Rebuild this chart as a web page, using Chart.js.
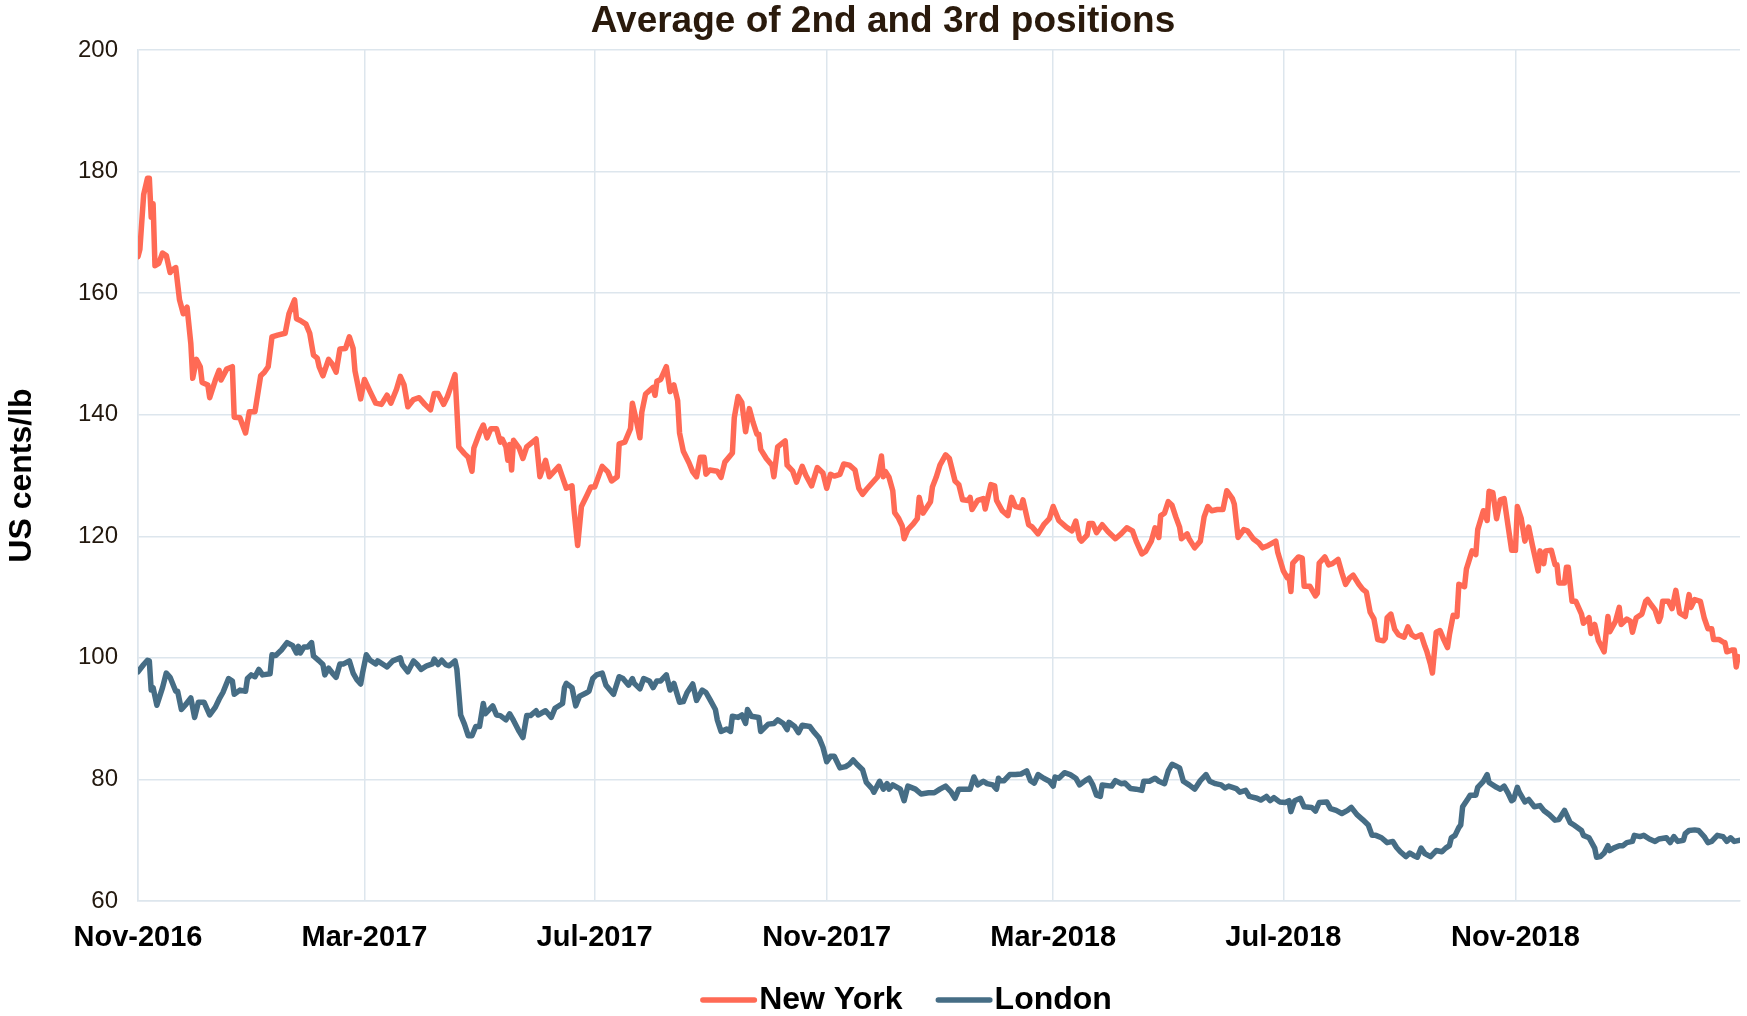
<!DOCTYPE html>
<html>
<head>
<meta charset="utf-8">
<title>Average of 2nd and 3rd positions</title>
<script src="https://cdn.jsdelivr.net/npm/chart.js@4.4.1/dist/chart.umd.min.js"></script>
<style>
  html, body { margin: 0; padding: 0; background: #fff; overflow: hidden; }
  canvas { display: block; }
</style>
</head>
<body>
<canvas id="myChart" width="1747" height="1016"></canvas>
<script>
// x values are days counted from 1 Nov 2016
const startDate = '2016-11-01';

const tickDays = [0, 120, 242, 365, 485, 607, 730];
const tickLabels = ['Nov-2016', 'Mar-2017', 'Jul-2017', 'Nov-2017', 'Mar-2018', 'Jul-2018', 'Nov-2018'];
const lastDay = 849;

// New York, US cents/lb
const nyDays = [
    0,1,3,5,6,7,8,9,11,13,
    15,17,18,20,22,24,26,28,29,31,
    33,34,37,38,41,43,44,47,50,51,
    54,57,59,62,65,67,69,71,74,78,
    80,83,84,86,89,91,93,95,96,98,
    101,103,105,107,110,112,114,115,118,120,
    123,126,129,132,134,137,139,141,143,146,
    149,152,155,157,159,162,164,166,168,169,
    170,173,175,177,178,181,183,185,187,190,
    192,193,195,196,197,198,199,202,204,206,
    211,213,216,218,223,225,227,
    230,231,233,235,238,240,242,246,249,251,
    254,255,258,261,262,264,266,267,269,273,
    274,275,277,280,282,284,286,287,289,292,
    294,296,298,300,301,303,307,309,311,315,
    316,318,320,322,324,326,328,329,330,333,
    336,337,339,343,344,347,349,352,354,357,
    360,363,365,367,369,372,374,377,380,382,
    384,386,390,392,394,395,396,398,400,401,
    403,405,406,408,411,413,414,416,420,421,
    423,425,428,430,433,435,437,440,441,442,
    445,448,449,452,454,455,
    458,461,463,465,468,469,472,474,477,480,
    483,485,488,492,495,497,499,500,503,504,
    506,508,511,514,518,521,524,527,529,532,
    534,537,539,541,542,544,546,548,550,552,
    553,556,557,560,563,565,567,569,572,575,
    577,580,581,583,586,588,591,594,596,599,
    603,604,607,609,610,611,612,615,617,618,
    621,624,625,626,629,631,633,636,638,640,
    642,644,647,649,651,653,655,657,660,661,
    662,664,666,668,671,673,675,677,680,682,
    683,685,686,688,690,692,694,695,697,699,
    700,703,704,707,709,710,713,715,716,718,
    720,722,724,726,728,730,731,733,735,737,
    739,742,743,745,746,749,751,752,753,756,
    757,758,760,762,765,766,769,770,772,774,
    777,779,780,783,785,786,789,791,792,794,
    797,799,800,802,804,806,807,808,811,813,
    815,817,820,822,823,825,828,830,832,834,
    835,838,840,841,842,845,846,847,848,849
];
const nyValues = [
    166.0,167.2,176.2,178.9,178.9,172.5,174.7,164.5,164.9,166.6,
    166.2,163.4,163.8,164.2,158.9,156.6,157.7,151.7,146.0,149.1,
    147.9,145.3,144.9,142.8,145.7,147.3,145.7,147.5,147.9,139.6,
    139.5,137.0,140.5,140.5,146.4,147.0,147.9,152.8,153.1,153.4,
    156.6,158.9,155.8,155.5,154.9,153.4,149.8,149.3,147.9,146.4,
    149.1,148.3,147.0,150.8,150.9,152.8,150.9,147.2,142.6,145.8,
    143.8,141.9,141.7,143.2,141.9,144.2,146.3,144.9,141.3,142.5,
    142.8,141.7,140.8,143.5,143.5,141.7,143.0,144.8,146.6,140.8,
    134.7,133.6,133.0,130.7,134.5,137.0,138.3,136.2,137.7,137.7,
    135.5,136.0,134.7,132.5,135.1,130.9,135.8,134.5,132.8,134.7,
    136.0,129.8,132.5,129.8,131.5,129.7,127.9,
    128.3,124.5,118.5,124.9,126.8,128.1,128.1,131.5,130.6,129.1,
    129.8,135.2,135.5,137.7,141.9,139.2,136.2,140.4,143.4,144.5,
    143.2,145.5,145.8,147.9,143.8,144.9,142.3,137.0,134.0,132.1,
    130.6,129.8,133.0,133.0,130.2,130.9,130.7,129.7,132.2,133.7,
    139.5,143.0,142.0,137.2,141.0,138.7,136.8,136.8,134.3,132.8,
    131.7,129.8,134.7,135.7,131.7,130.7,128.9,131.5,130.0,128.3,
    131.3,130.4,127.9,130.2,129.9,130.2,131.9,131.7,130.9,127.9,
    126.9,127.7,129.1,129.8,133.2,129.8,130.7,129.7,127.5,123.9,
    123.0,121.7,119.6,121.1,122.1,122.9,126.4,123.8,125.7,128.1,
    129.7,131.7,133.4,132.8,129.1,128.5,126.0,125.9,126.4,124.4,
    125.9,126.2,124.5,128.5,128.3,125.9,
    124.2,123.4,126.4,124.9,124.7,126.0,121.9,121.5,120.4,121.9,
    122.9,124.9,122.6,121.5,120.9,122.5,119.6,119.2,120.2,122.1,
    122.1,120.6,121.9,120.8,119.6,120.4,121.4,120.9,119.2,117.1,
    117.5,119.2,121.4,119.8,123.4,123.8,125.7,125.1,123.2,121.5,
    119.6,120.4,119.6,118.1,119.2,123.2,124.9,124.2,124.4,124.4,
    127.5,126.2,125.3,119.8,121.1,120.9,119.6,118.9,118.1,118.5,
    119.2,117.4,114.3,113.2,113.4,110.9,115.6,116.6,116.4,111.8,
    111.8,110.2,110.6,115.6,116.6,115.3,115.5,116.2,114.0,112.1,
    113.1,113.6,112.1,111.3,110.8,107.5,106.4,103.0,102.8,103.2,
    106.6,107.2,104.7,103.8,103.4,105.1,103.8,103.4,103.8,101.9,
    101.1,98.9,97.5,104.2,104.5,103.0,101.7,103.8,107.0,106.8,
    112.1,111.7,114.6,117.6,117.0,121.1,124.2,122.6,127.4,127.2,
    122.9,126.0,126.2,121.9,117.7,117.7,124.9,123.0,119.2,121.5,
    118.5,114.3,117.6,115.5,117.6,117.7,115.3,115.3,112.3,112.3,
    114.9,114.9,109.3,109.3,107.2,105.7,106.6,104.0,105.5,102.8,
    101.0,106.8,104.3,106.0,108.3,105.5,106.4,106.0,104.2,106.6,
    107.2,109.3,109.6,108.7,107.9,106.0,106.8,109.3,109.3,108.1,
    111.1,107.4,106.8,110.4,108.3,109.6,109.3,106.6,104.8,104.8,
    103.0,103.0,102.6,102.5,101.0,101.3,101.3,98.5,100.2,100.0
];

// London, US cents/lb
const ldnDays = [
    0,3,5,6,7,8,10,13,15,17,
    20,21,23,25,28,30,32,35,38,41,
    43,45,48,50,51,54,57,58,60,62,
    64,66,70,71,73,76,79,82,84,85,
    86,88,90,92,93,96,98,99,101,103,
    105,107,109,112,114,116,118,119,121,123,
    126,127,130,132,135,139,140,143,146,148,
    150,153,156,157,159,161,163,165,168,169,
    171,173,175,177,179,181,183,184,188,190,
    192,195,197,199,202,204,206,208,211,212,
    216,219,221,225,
    226,227,230,232,234,238,239,241,243,246,
    248,252,255,257,260,262,263,266,268,271,
    273,275,277,280,282,284,287,289,291,294,
    296,299,301,303,306,307,309,312,314,315,
    318,320,322,323,325,329,330,334,337,339,
    342,344,345,348,350,352,356,358,361,363,
    365,367,369,372,375,377,379,381,384,386,
    389,390,393,395,397,398,400,404,406,408,
    412,415,419,422,425,428,431,433,435,438,
    441,443,445,448,450,453,455,456,
    457,459,462,465,468,471,473,475,477,480,
    483,485,486,488,491,494,497,499,502,504,
    506,508,510,511,516,518,521,523,526,529,
    532,533,536,539,541,544,546,548,550,552,
    554,557,560,563,566,568,571,574,576,578,
    582,584,587,589,593,595,598,600,602,605,
    608,610,611,613,616,618,622,624,626,630,
    632,635,638,641,643,646,649,652,654,656,
    659,662,665,667,669,672,674,676,678,680,
    682,
    685,688,691,693,695,696,698,700,701,702,
    705,706,709,710,713,715,716,720,722,724,
    726,728,729,731,732,735,737,740,743,745,
    748,751,753,756,759,761,765,766,769,772,
    773,775,777,779,780,782,785,787,789,792,
    793,796,798,801,804,806,810,812,814,816,
    819,820,822,825,827,830,832,834,837,840,
    842,844,846,849
];
const ldnValues = [
    97.7,98.9,99.6,99.5,94.7,95.1,92.2,95.1,97.5,96.8,
    94.5,94.5,91.5,92.2,93.4,90.2,92.7,92.7,90.6,91.9,
    93.2,94.3,96.6,96.2,94.0,94.7,94.5,96.6,97.2,96.9,
    98.1,97.2,97.4,100.5,100.4,101.3,102.5,102.0,100.8,101.9,
    100.8,101.8,101.8,102.5,100.3,99.5,98.9,97.2,98.3,97.5,
    96.8,99.0,99.0,99.5,97.5,96.4,95.7,97.5,100.5,99.6,
    99.0,99.5,98.9,98.5,99.5,100.0,98.9,97.7,99.5,98.9,
    98.1,98.7,99.0,99.8,98.9,99.6,98.9,98.7,99.5,98.1,
    90.6,89.1,87.2,87.2,88.7,88.7,92.5,90.8,92.1,90.6,
    90.5,89.8,90.8,89.7,87.9,86.9,90.5,90.5,91.3,90.6,
    91.3,90.2,91.7,92.5,
    95.1,95.8,95.1,92.1,93.7,94.3,94.5,96.6,97.2,97.5,
    95.5,94.0,96.9,96.6,95.5,96.6,95.8,94.9,96.6,96.2,
    95.1,96.2,96.2,97.2,94.7,95.8,92.7,92.8,94.3,95.7,
    93.0,94.7,94.3,93.2,91.5,89.8,87.9,88.3,87.9,90.4,
    90.2,90.6,89.2,91.5,90.4,90.2,87.9,89.1,89.2,89.8,
    89.2,88.2,89.4,88.7,87.7,88.9,88.7,87.9,86.8,85.3,
    82.9,83.8,83.8,81.9,82.1,82.5,83.2,82.5,81.6,79.5,
    78.5,77.9,79.7,78.4,79.3,78.4,79.1,78.4,76.5,78.9,
    78.4,77.6,77.8,77.8,78.4,78.9,77.9,76.9,78.4,78.4,
    78.4,80.4,79.1,79.7,79.3,79.1,78.4,80.2,
    79.8,79.8,80.8,80.8,80.9,81.4,79.8,79.4,80.8,80.2,
    79.7,78.9,80.4,80.2,81.1,80.8,80.2,79.1,79.8,80.2,
    79.1,77.4,77.2,79.1,78.9,79.8,79.3,79.4,78.5,78.4,
    78.2,79.7,79.7,80.2,79.7,79.3,81.4,82.5,82.2,81.9,
    79.7,79.1,78.4,79.8,80.8,79.7,79.3,79.1,78.6,78.9,
    78.5,77.9,78.2,77.2,76.9,76.6,77.2,76.5,77.0,76.3,
    76.2,76.5,74.7,76.5,76.9,75.5,75.4,74.8,76.2,76.3,
    75.2,74.9,74.4,74.9,75.4,74.2,73.4,72.5,70.8,70.8,
    70.4,69.6,69.8,68.8,68.1,67.3,67.9,67.5,67.2,68.7,
    67.8,
    67.3,68.3,68.1,68.7,69.1,70.4,70.8,72.1,72.5,75.5,
    76.9,77.4,77.4,78.7,79.7,80.8,79.5,78.7,78.4,78.9,
    77.8,76.5,76.7,78.7,77.9,76.3,76.7,75.5,75.7,74.9,
    74.2,73.3,73.4,74.9,72.9,72.5,71.6,70.8,70.4,68.7,
    67.2,67.3,67.9,69.1,68.3,68.7,69.1,69.1,69.6,69.8,
    70.8,70.6,70.8,70.2,69.8,70.2,70.4,69.6,70.6,69.8,
    70.0,71.1,71.6,71.7,71.6,70.6,69.6,69.8,70.8,70.6,
    69.8,70.4,69.8,70.0
];

const yMin = 60;
const yMax = 200;
const yStep = 20;

const chartTitle = 'Average of 2nd and 3rd positions';

const nyColor = '#ff6a55';
const ldnColor = '#466d85';
const gridColor = '#dde6ed';
const textColor = '#22180e';

Chart.defaults.font.family = '"Liberation Sans", Arial, sans-serif';

const toPoints = (days, values) => days.map((d, i) => ({x: d, y: values[i]}));

// data block
const data = {
    datasets: [{
        label: 'New York',
        data: toPoints(nyDays, nyValues),
        borderColor: nyColor,
        backgroundColor: nyColor,
        borderWidth: 5.5,
        borderJoinStyle: 'round',
        borderCapStyle: 'round',
        pointRadius: 0,
        tension: 0
    }, {
        label: 'London',
        data: toPoints(ldnDays, ldnValues),
        borderColor: ldnColor,
        backgroundColor: ldnColor,
        borderWidth: 5.5,
        borderJoinStyle: 'round',
        borderCapStyle: 'round',
        pointRadius: 0,
        tension: 0
    }]
};

// title on top, and a legend drawn as a short line next to each label under the x axis
const chartText = {
    id: 'chartText',
    afterDraw(chart, args, options) {
        const {ctx} = chart;
        ctx.save();

        ctx.font = options.titleFont;
        ctx.fillStyle = options.titleColor;
        ctx.textAlign = 'center';
        ctx.textBaseline = 'middle';
        ctx.fillText(options.title, options.titleX, options.titleY);

        ctx.font = options.font;
        const items = chart.data.datasets.map(ds => ({
            text: ds.label,
            color: ds.borderColor,
            width: ctx.measureText(ds.label).width
        }));
        const total = items.reduce((sum, it) => sum + options.lineLength + options.textGap + it.width, 0)
            + options.itemGap * (items.length - 1);
        let x = options.centerX - total / 2;
        const cap = options.lineWidth / 2;
        items.forEach(it => {
            ctx.strokeStyle = it.color;
            ctx.lineWidth = options.lineWidth;
            ctx.lineCap = 'round';
            ctx.beginPath();
            ctx.moveTo(x + cap, options.y);
            ctx.lineTo(x + options.lineLength - cap, options.y);
            ctx.stroke();
            x += options.lineLength + options.textGap;
            ctx.fillStyle = options.color;
            ctx.textAlign = 'left';
            ctx.textBaseline = 'middle';
            ctx.fillText(it.text, x, options.y);
            x += it.width + options.itemGap;
        });
        ctx.restore();
    }
};

// config block
const config = {
    type: 'line',
    data: data,
    options: {
        responsive: false,
        animation: false,
        layout: {
            padding: {left: 0, right: 7, top: 50, bottom: 0}
        },
        scales: {
            x: {
                type: 'linear',
                min: 0,
                max: lastDay,
                afterBuildTicks: scale => {
                    scale.ticks = tickDays.map(v => ({value: v}));
                },
                afterFit: scale => {
                    scale.height = 115;
                },
                grid: {
                    color: gridColor,
                    lineWidth: 1.5,
                    drawTicks: false
                },
                border: {
                    color: gridColor,
                    width: 1.5
                },
                ticks: {
                    autoSkip: false,
                    maxRotation: 0,
                    padding: 20,
                    color: '#000',
                    font: {size: 29, weight: 'bold'},
                    callback: (value, index) => tickLabels[index]
                }
            },
            y: {
                min: yMin,
                max: yMax,
                afterFit: scale => {
                    scale.width = 138;
                },
                grid: {
                    color: gridColor,
                    lineWidth: 1.5,
                    drawTicks: false
                },
                border: {
                    color: gridColor,
                    width: 1.5
                },
                ticks: {
                    stepSize: yStep,
                    padding: 20,
                    color: textColor,
                    font: {size: 24}
                },
                title: {
                    display: true,
                    text: 'US cents/lb',
                    color: '#000',
                    font: {size: 32, weight: 'bold'},
                    padding: {top: 3, bottom: 0}
                }
            }
        },
        plugins: {
            title: {
                display: false
            },
            legend: {
                display: false
            },
            tooltip: {
                enabled: false
            },
            chartText: {
                title: chartTitle,
                titleFont: 'bold 37px "Liberation Sans", Arial, sans-serif',
                titleColor: '#2a1a0c',
                titleX: 883,
                titleY: 22,
                font: 'bold 32px "Liberation Sans", Arial, sans-serif',
                color: '#000',
                centerX: 906,
                y: 1000,
                lineLength: 57,
                lineWidth: 5.5,
                textGap: 2,
                itemGap: 33
            }
        }
    },
    plugins: [chartText]
};

// init render block
const myChart = new Chart(
    document.getElementById('myChart'),
    config
);
</script>
</body>
</html>
